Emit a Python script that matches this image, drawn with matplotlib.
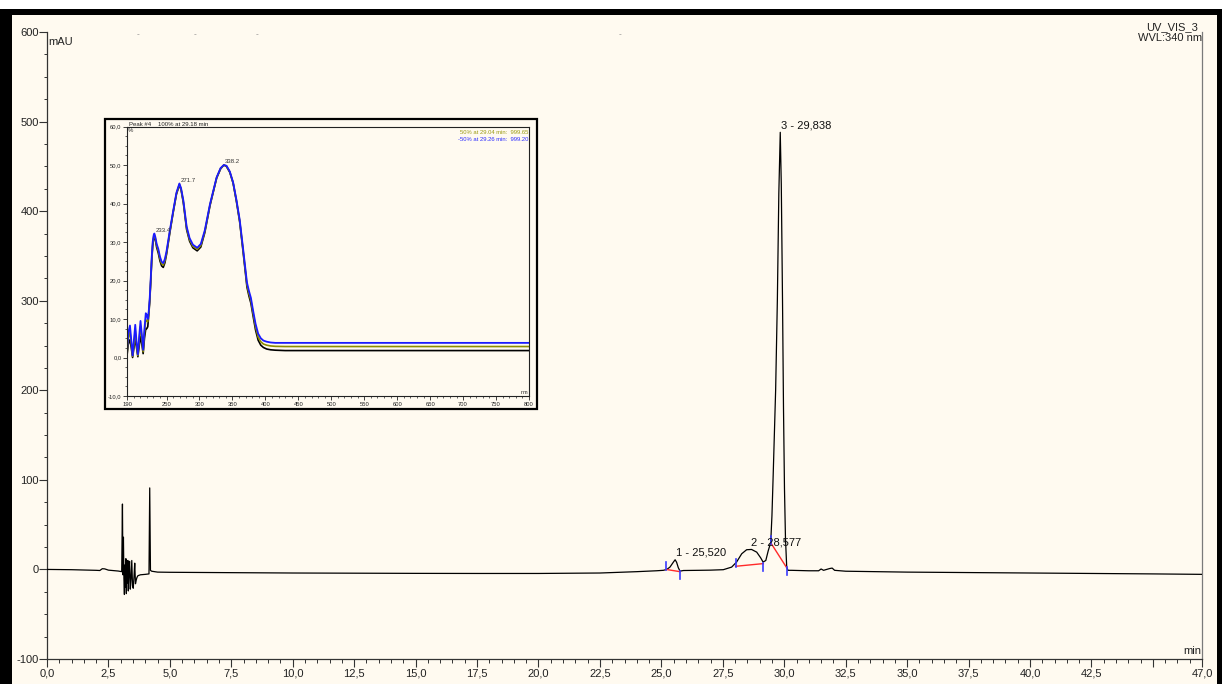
import matplotlib
matplotlib.use('Agg')
import matplotlib.pyplot as plt
from matplotlib.patches import Rectangle
from matplotlib.ticker import MultipleLocator, FixedLocator, FuncFormatter

plt.rcParams['font.family'] = ['Liberation Sans', 'DejaVu Sans']
plt.rcParams['axes.unicode_minus'] = False

# ---------------- chromatogram data (min, mAU) ----------------
time_min = [0.0, 1.0, 2.0, 2.15, 2.25, 2.35, 2.5, 2.9, 3.04, 3.07, 3.09, 3.11, 3.13,
            3.15, 3.17, 3.19, 3.21, 3.23, 3.25, 3.27, 3.29, 3.31, 3.33, 3.36, 3.39,
            3.42, 3.45, 3.48, 3.51, 3.54, 3.57, 3.60, 3.63, 3.66, 3.70, 3.75, 3.80,
            4.00, 4.15, 4.18, 4.21, 4.26, 4.5, 5.0, 7.5, 10.0, 12.5, 15.0,
            17.5, 20.0, 22.5, 24.0, 24.8, 25.08, 25.22, 25.35, 25.49, 25.56, 25.62,
            25.69, 25.76, 25.9, 26.5, 27.0, 27.52, 27.86, 28.06, 28.27, 28.47, 28.67,
            28.88, 29.04, 29.14, 29.25, 29.35, 29.45, 29.50, 29.55, 29.65, 29.72, 29.78,
            29.838, 29.88, 29.93, 29.97, 30.01, 30.05, 30.10, 30.15, 30.3, 31.0, 31.4,
            31.5, 31.6, 31.85, 31.95, 32.05, 32.5, 35.0, 37.5, 40.0, 42.5, 45.0, 47.0]
signal_mau = [0.0, -0.3, -1.0, -1.2, 0.8, 0.6, -0.8, -1.8, -2.5, 73.0, -6.0, 36.0, -10.0,
              -28.0, 5.0, -20.0, 12.0, -27.0, 8.0, -15.0, 10.0, -24.0, -5.0, 9.0, -22.0,
              -10.0, 10.0, -18.0, -21.0, -8.0, 7.0, -16.0, -12.0, -9.0, -7.0, -6.5, -6.0,
              -5.5, -5.0, 91.0, -1.0, -2.0, -3.0, -3.2, -3.6, -4.0, -4.2, -4.4,
              -4.5, -4.5, -4.0, -2.5, -1.5, -1.0, 0.0, 2.6, 8.2, 10.8, 8.0,
              1.9, -1.9, -1.2, -1.0, -0.8, -0.3, 2.6, 8.2, 17.5, 22.0, 22.3,
              19.3, 13.0, 8.2, 10.0, 21.0, 30.0, 60.0, 105.0, 200.0, 300.0, 420.0,
              488.0, 430.0, 300.0, 180.0, 90.0, 35.0, 3.0, -1.0, -1.0, -1.5, -1.5,
              0.5, -1.0, 1.0, 1.5, -1.0, -2.0, -3.0, -3.5, -4.0, -4.5, -5.0, -5.5]

# peaks
peak_labels = ['1 - 25,520', '2 - 28,577', '3 - 29,838']
peak_apex_t = [25.56, 28.60, 29.838]
peak_apex_v = [10.8, 22.3, 488.0]
# integration baselines: (start t, start v, end t, end v)
base_start_t = [25.19, 28.02, 29.46]
base_start_v = [0.0, 3.5, 29.4]
base_end_t = [25.76, 29.15, 30.10]
base_end_v = [-2.5, 6.5, 1.9]

x_major = [0, 2.5, 5, 7.5, 10, 12.5, 15, 17.5, 20, 22.5, 25, 27.5, 30, 32.5, 35,
           37.5, 40, 42.5, 45, 47]
x_major_labels = ['0,0', '2,5', '5,0', '7,5', '10,0', '12,5', '15,0', '17,5', '20,0',
                  '22,5', '25,0', '27,5', '30,0', '32,5', '35,0', '37,5', '40,0',
                  '42,5', '', '47,0']

# ---------------- inset spectrum data (nm, %) ----------------
wavelength = [190, 192, 194.5, 196.5, 198.5, 200.5, 202.5, 204.5, 206.5, 208.5, 210.5,
              212.5, 214.5, 216.5, 218.5, 220, 221.5, 223, 224.5, 226, 227.5, 229,
              230.5, 231.5, 233, 235, 237.5, 240, 242.5, 245, 247.5, 250, 255, 260,
              265, 269.5, 272, 275.5, 280.5, 285, 290, 296.5, 302, 308, 316, 326, 332,
              337, 341, 346, 351, 356, 361, 366, 370, 372, 375, 378, 381, 385, 389,
              393, 397, 402, 408, 415, 430, 500, 600, 700, 800]
spec_blue = [1.5, 6.5, 8.3, 4.5, 0.5, 4.5, 8.5, 4.0, 0.8, 5.5, 9.5,
             6.0, 2.0, 7.5, 11.5, 11.0, 10.0, 12.0, 15.5, 20.5, 26.0, 30.0,
             31.8, 32.2, 31.3, 29.5, 28.2, 26.2, 24.9, 24.5, 25.6, 27.6, 33.0, 38.0,
             42.8, 45.2, 44.0, 40.8, 34.0, 31.0, 29.3, 28.5, 29.5, 33.0, 39.9, 46.8, 49.2,
             50.0, 49.8, 48.3, 45.5, 41.0, 35.8, 28.5, 22.5, 19.5, 17.3, 15.5, 12.5, 8.8, 6.2,
             5.0, 4.4, 4.1, 3.9, 3.8, 3.8, 3.8, 3.8, 3.8, 3.8]
spec_olive = [1.0, 5.0, 6.8, 3.5, 0.3, 3.5, 7.0, 3.2, 0.5, 4.5, 8.0,
              5.0, 1.5, 6.5, 9.8, 9.5, 9.3, 11.5, 15.0, 20.0, 25.5, 29.5,
              31.4, 31.9, 31.0, 29.1, 27.7, 25.7, 24.4, 24.0, 25.1, 27.2, 32.7, 37.8,
              42.6, 45.0, 43.8, 40.5, 33.6, 30.6, 28.9, 28.1, 29.1, 32.7, 39.7, 46.7, 49.1,
              50.0, 49.7, 48.2, 45.4, 40.8, 35.5, 28.1, 22.0, 18.9, 16.6, 14.8, 11.8, 8.0, 5.3,
              4.1, 3.5, 3.2, 3.0, 2.9, 2.85, 2.85, 2.85, 2.85, 2.85]
spec_black = [0.5, 3.5, 4.6, 2.5, 0.0, 2.5, 5.0, 2.5, 0.2, 3.0, 5.5,
              3.5, 1.0, 5.0, 7.5, 7.5, 8.0, 11.0, 14.5, 19.5, 25.0, 29.0,
              31.0, 31.5, 30.6, 28.6, 27.1, 25.1, 23.8, 23.4, 24.6, 26.8, 32.4, 37.6,
              42.4, 44.8, 43.6, 40.2, 33.2, 30.2, 28.5, 27.7, 28.7, 32.4, 39.5, 46.6, 49.0,
              50.0, 49.6, 48.1, 45.3, 40.6, 35.2, 27.7, 21.5, 18.3, 16.0, 14.1, 11.1, 7.2, 4.5,
              3.2, 2.6, 2.2, 2.0, 1.9, 1.8, 1.8, 1.8, 1.8, 1.8]
spec_peak_labels = ['233.4', '271.7', '338.2']
spec_peak_wl = [231.5, 269.5, 337.0]
spec_peak_val = [32.2, 45.2, 50.0]
inset_x_major = [190, 250, 300, 350, 400, 450, 500, 550, 600, 650, 700, 750, 800]

# ---------------- figure ----------------
W, H = 1222, 684
BG = '#fffaf0'
fig = plt.figure(figsize=(W / 100, H / 100), dpi=100, facecolor=BG)


def fx(px):
    return px / W


def fy(py):
    return 1 - py / H


def frect(x0, y0, x1, y1, **kw):
    r = Rectangle((fx(x0), fy(y1)), fx(x1) - fx(x0), fy(y0) - fy(y1),
                  transform=fig.transFigure, **kw)
    fig.patches.append(r)
    return r


# outer frame
frect(0, 0, W, 9, facecolor='white', edgecolor='none', zorder=0)
frect(0, 9, W, 15, facecolor='black', edgecolor='none', zorder=0)
frect(0, 9, 12, H, facecolor='black', edgecolor='none', zorder=0)
frect(1217, 9, W, H, facecolor='black', edgecolor='none', zorder=0)

# main axes
ax = fig.add_axes([fx(47), fy(659), fx(1202) - fx(47), fy(32) - fy(659)], zorder=1)
ax.set_facecolor(BG)
ax.plot(time_min, signal_mau, color='black', lw=0.9, zorder=3)
for st, sv, et, ev in zip(base_start_t, base_start_v, base_end_t, base_end_v):
    ax.plot([st, et], [sv, ev], color='#ff2a2a', lw=1.0, zorder=4)
    ax.plot([st, st], [sv - 1, sv + 8], color='#3a3aff', lw=1.2, zorder=5)
    ax.plot([et, et], [ev + 1, ev - 8], color='#3a3aff', lw=1.2, zorder=5)
for lab, pt, pv in zip(peak_labels, peak_apex_t, peak_apex_v):
    ax.annotate(lab, xy=(pt, pv), xytext=(0.7, 3), textcoords='offset points',
                ha='left', va='baseline', fontsize=8, color='#111111', zorder=6)

ax.set_xlim(0, 47)
ax.set_ylim(-100, 600)
ax.spines['top'].set_visible(False)
ax.spines['right'].set_color('#7a7a7a')
ax.spines['left'].set_color('#333333')
ax.spines['bottom'].set_color('#333333')
for s in ('right', 'left', 'bottom'):
    ax.spines[s].set_linewidth(0.9)
ax.xaxis.set_major_locator(FixedLocator(x_major))
ax.set_xticklabels(x_major_labels)
ax.xaxis.set_minor_locator(MultipleLocator(0.5))
ax.yaxis.set_major_locator(MultipleLocator(100))
ax.yaxis.set_minor_locator(MultipleLocator(25))
ax.yaxis.set_major_formatter(FuncFormatter(lambda v, p: f'{int(round(v))}'))
ax.tick_params(axis='x', which='major', direction='out', length=5.5, width=0.8,
               pad=1.5, labelsize=8, colors='#333333', labelcolor='#222222')
ax.tick_params(axis='x', which='minor', direction='out', length=3, width=0.7,
               colors='#333333')
ax.tick_params(axis='y', which='major', direction='out', length=5.5, width=0.8,
               pad=0.5, labelsize=8, colors='#333333', labelcolor='#222222')
ax.tick_params(axis='y', which='minor', direction='out', length=2.5, width=0.7,
               colors='#333333')
ax.text(0.0015, 0.992, 'mAU', transform=ax.transAxes, ha='left', va='top',
        fontsize=8, color='#222222')
ax.text(0.9995, 0.004, 'min', transform=ax.transAxes, ha='right', va='bottom',
        fontsize=8, color='#222222')

fig.text(fx(1198), fy(30), 'UV_VIS_3', ha='right', va='baseline', fontsize=8,
         color='#222222')
fig.text(fx(1202), fy(41), 'WVL:340 nm', ha='right', va='baseline', fontsize=8,
         color='#222222')
for px in (138, 195, 257, 620):
    fig.text(fx(px), fy(36), '-', ha='center', va='baseline', fontsize=6,
             color='#888888')

# inset box
frect(105, 119, 537, 409, facecolor=BG, edgecolor='black', lw=1.6, zorder=2)
fig.text(fx(129), fy(125.5), 'Peak #4', ha='left', va='baseline', fontsize=4.3,
         color='#222222', zorder=4)
fig.text(fx(158), fy(125.5), '100% at 29.18 min', ha='left', va='baseline',
         fontsize=4.3, color='#222222', zorder=4)

axi = fig.add_axes([fx(127), fy(396), fx(529) - fx(127), fy(126.5) - fy(396)], zorder=3)
axi.set_facecolor(BG)
axi.plot(wavelength, spec_black, color='black', lw=1.2)
axi.plot(wavelength, spec_olive, color='#8c8c00', lw=1.2)
axi.plot(wavelength, spec_blue, color='#1a1aff', lw=1.3)
for lab, w, v in zip(spec_peak_labels, spec_peak_wl, spec_peak_val):
    axi.annotate(lab, xy=(w, v), xytext=(0.8, 0.6), textcoords='offset points',
                 ha='left', va='bottom', fontsize=4.3, color='#333333')
axi.set_xlim(190, 800)
axi.set_ylim(-10, 60)
axi.xaxis.set_major_locator(FixedLocator(inset_x_major))
axi.xaxis.set_minor_locator(MultipleLocator(10))
axi.yaxis.set_major_locator(MultipleLocator(10))
axi.yaxis.set_minor_locator(MultipleLocator(2.5))
axi.xaxis.set_major_formatter(FuncFormatter(lambda v, p: f'{int(round(v))}'))
axi.yaxis.set_major_formatter(FuncFormatter(lambda v, p: f'{v:.1f}'.replace('.', ',')))
for s in axi.spines.values():
    s.set_linewidth(0.8)
    s.set_color('#222222')
axi.tick_params(axis='both', which='major', direction='out', length=3, width=0.6,
                pad=1, labelsize=4.2, colors='#222222')
axi.tick_params(axis='both', which='minor', direction='out', length=1.5, width=0.5,
                colors='#222222')
axi.text(0.003, 0.995, '%', transform=axi.transAxes, ha='left', va='top',
         fontsize=4.3, color='#222222')
axi.text(0.998, 0.004, 'nm', transform=axi.transAxes, ha='right', va='bottom',
         fontsize=4, color='#222222')
axi.text(0.999, 0.988, '50% at 29.04 min:  999.65', transform=axi.transAxes,
         ha='right', va='top', fontsize=4.2, color='#9a9a10')
axi.text(0.999, 0.962, '-50% at 29.26 min:  999.20', transform=axi.transAxes,
         ha='right', va='top', fontsize=4.2, color='#2a2aff')

fig.savefig('out.png', dpi=100, facecolor=BG)
